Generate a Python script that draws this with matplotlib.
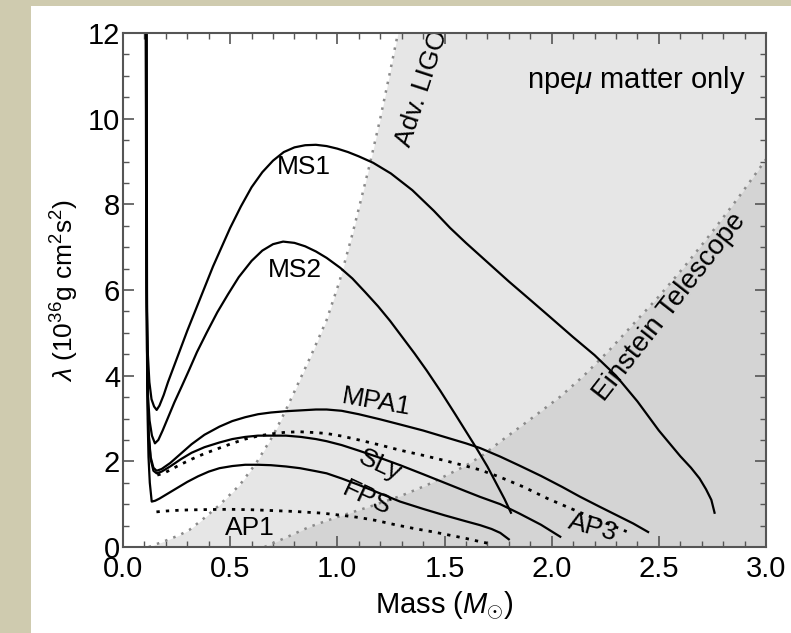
import matplotlib
matplotlib.use("Agg")
import matplotlib.pyplot as plt
from matplotlib.patches import Rectangle
from matplotlib.ticker import MultipleLocator, FormatStrFormatter

plt.rcParams['font.family'] = ['Liberation Sans', 'DejaVu Sans']
plt.rcParams['mathtext.fontset'] = 'custom'
plt.rcParams['mathtext.rm'] = 'Liberation Sans'
plt.rcParams['mathtext.it'] = 'Liberation Sans:italic'

# equations of state: (mass, lambda)
ms1_m = [0.106, 0.108, 0.111, 0.116, 0.123, 0.133, 0.145, 0.157, 0.17, 0.19, 0.21, 0.24, 0.27, 0.30,
         0.34, 0.38, 0.42, 0.46, 0.50, 0.55, 0.60, 0.65, 0.70, 0.75, 0.80, 0.85, 0.90, 0.95, 1.00,
         1.05, 1.10, 1.167, 1.25, 1.35, 1.45, 1.526, 1.6, 1.7, 1.8, 1.9, 1.99, 2.1, 2.2, 2.3, 2.4,
         2.5, 2.6, 2.65, 2.69, 2.72, 2.745, 2.76]
ms1_l = [12.5, 8.0, 5.6, 4.5, 3.85, 3.45, 3.28, 3.2, 3.3, 3.55, 3.85, 4.25, 4.65, 5.05,
         5.55, 6.05, 6.55, 7.0, 7.45, 7.95, 8.4, 8.75, 9.02, 9.22, 9.33, 9.38, 9.39, 9.36, 9.3,
         9.22, 9.12, 8.97, 8.72, 8.33, 7.85, 7.45, 7.1, 6.65, 6.2, 5.77, 5.38, 4.9, 4.48, 4.0, 3.4,
         2.72, 2.12, 1.85, 1.6, 1.35, 1.1, 0.8]

ms2_m = [0.107, 0.109, 0.112, 0.117, 0.124, 0.135, 0.149, 0.165, 0.185, 0.21, 0.24, 0.274, 0.31,
         0.345, 0.39, 0.44, 0.49, 0.54, 0.60, 0.65, 0.70, 0.747, 0.80, 0.85, 0.90, 0.95, 1.013,
         1.07, 1.13, 1.19, 1.246, 1.30, 1.36, 1.417, 1.48, 1.55, 1.60, 1.65, 1.70, 1.74, 1.78, 1.81]
ms2_l = [12.5, 7.0, 4.6, 3.5, 2.95, 2.6, 2.42, 2.5, 2.72, 3.02, 3.38, 3.75, 4.15,
         4.55, 5.0, 5.48, 5.9, 6.3, 6.68, 6.92, 7.07, 7.13, 7.1, 7.02, 6.9, 6.75, 6.52,
         6.27, 5.95, 5.62, 5.28, 4.92, 4.52, 4.12, 3.65, 3.1, 2.7, 2.3, 1.88, 1.5, 1.12, 0.8]

mpa1_m = [0.108, 0.110, 0.113, 0.119, 0.129, 0.142, 0.157, 0.18, 0.22, 0.27, 0.32, 0.38, 0.45, 0.51,
          0.57, 0.63, 0.69, 0.76, 0.83, 0.90, 0.95, 1.02, 1.1, 1.2, 1.293, 1.4, 1.5, 1.6, 1.666,
          1.76, 1.85, 1.95, 2.05, 2.13, 2.22, 2.3, 2.38, 2.45]
mpa1_l = [12.5, 6.0, 3.8, 2.7, 2.1, 1.85, 1.78, 1.82, 1.96, 2.18, 2.4, 2.62, 2.81, 2.94,
          3.03, 3.1, 3.14, 3.17, 3.19, 3.21, 3.21, 3.18, 3.1, 2.98, 2.86, 2.72, 2.57, 2.42, 2.31,
          2.11, 1.9, 1.66, 1.4, 1.18, 0.95, 0.75, 0.55, 0.35]

sly_m = [0.109, 0.111, 0.114, 0.120, 0.129, 0.142, 0.157, 0.18, 0.22, 0.27, 0.32, 0.38, 0.45, 0.51,
         0.57, 0.63, 0.69, 0.76, 0.83, 0.90, 0.95, 1.02, 1.1, 1.2, 1.293, 1.4, 1.5, 1.6, 1.666,
         1.76, 1.85, 1.95, 2.04]
sly_l = [12.5, 6.0, 3.8, 2.6, 2.05, 1.78, 1.72, 1.76, 1.88, 2.05, 2.2, 2.33, 2.44, 2.52,
         2.57, 2.6, 2.6, 2.6, 2.57, 2.52, 2.47, 2.38, 2.25, 2.08, 1.91, 1.7, 1.5, 1.3, 1.17,
         1.0, 0.78, 0.52, 0.24]

ap3_m = [0.16, 0.19, 0.22, 0.27, 0.32, 0.38, 0.45, 0.51, 0.57, 0.63, 0.69, 0.76, 0.826, 0.90, 0.95,
         1.02, 1.1, 1.2, 1.293, 1.4, 1.5, 1.6, 1.666, 1.76, 1.87, 1.977, 2.07, 2.15, 2.25, 2.35]
ap3_l = [1.68, 1.72, 1.8, 1.93, 2.05, 2.18, 2.31, 2.42, 2.52, 2.59, 2.64, 2.68, 2.69, 2.67, 2.65,
         2.59, 2.5, 2.38, 2.26, 2.14, 2.02, 1.89, 1.8, 1.63, 1.4, 1.14, 0.94, 0.77, 0.57, 0.36]

fps_m = [0.110, 0.112, 0.115, 0.119, 0.125, 0.134, 0.15, 0.17, 0.20, 0.25, 0.30, 0.35, 0.40, 0.45,
         0.51, 0.57, 0.63, 0.69, 0.76, 0.826, 0.90, 0.95, 1.02, 1.1, 1.2, 1.293, 1.4, 1.5, 1.6,
         1.666, 1.72, 1.76, 1.8]
fps_l = [12.5, 6.0, 3.0, 2.1, 1.5, 1.06, 1.08, 1.13, 1.22, 1.37, 1.52, 1.65, 1.76, 1.84,
         1.89, 1.92, 1.92, 1.91, 1.88, 1.84, 1.77, 1.72, 1.6, 1.45, 1.25, 1.06, 0.89, 0.74, 0.6,
         0.51, 0.42, 0.33, 0.18]

ap1_m = [0.156, 0.2, 0.25, 0.3, 0.4, 0.5, 0.6, 0.7, 0.8, 0.93, 1.02, 1.1, 1.18, 1.27, 1.36, 1.45,
         1.53, 1.6, 1.67, 1.72]
ap1_l = [0.82, 0.84, 0.855, 0.865, 0.875, 0.88, 0.87, 0.85, 0.83, 0.79, 0.74, 0.69, 0.62, 0.52,
         0.43, 0.35, 0.27, 0.2, 0.12, 0.07]

# detector sensitivity boundaries
ligo_m = [0.12, 0.2, 0.26, 0.31, 0.38, 0.45, 0.545, 0.62, 0.7, 0.76, 0.81, 0.88, 0.95, 1.01, 1.07,
          1.12, 1.153, 1.2, 1.24, 1.283]
ligo_l = [0.0, 0.15, 0.27, 0.4, 0.68, 0.98, 1.45, 1.95, 2.6, 3.2, 3.74, 4.5, 5.3, 6.2, 7.3,
          8.3, 8.97, 10.0, 10.95, 12.0]

et_m = [0.66, 0.76, 0.87, 1.0, 1.15, 1.3, 1.42, 1.52, 1.6, 1.68, 1.76, 1.9, 2.04, 2.15, 2.27, 2.38,
        2.5, 2.62, 2.74, 2.87, 3.0]
et_l = [0.0, 0.22, 0.47, 0.7, 0.94, 1.2, 1.45, 1.7, 1.9, 2.15, 2.46, 2.98, 3.51, 4.0, 4.6, 5.2,
        5.85, 6.55, 7.3, 8.15, 9.05]

fig = plt.figure(figsize=(7.91, 6.33), dpi=100)
fig.patch.set_facecolor('white')
# beige slide border
fig.patches.append(Rectangle((0, 0), 31 / 791, 1, transform=fig.transFigure,
                             facecolor='#cfcbaf', edgecolor='none', zorder=-1))
fig.patches.append(Rectangle((0, 1 - 6 / 633), 1, 6 / 633, transform=fig.transFigure,
                             facecolor='#cfcbaf', edgecolor='none', zorder=-1))

ax = fig.add_axes([123 / 791, 86 / 633, 643 / 791, 514 / 633])

ax.fill_betweenx(ligo_l, ligo_m, 3.0, color='#e6e6e6', lw=0, zorder=1)
ax.fill_betweenx(et_l, et_m, 3.0, color='#d4d4d4', lw=0, zorder=1)
ax.plot(ligo_m, ligo_l, color='#8a8a8a', ls=(0, (1, 2.5)), lw=1.8, zorder=2)
ax.plot(et_m, et_l, color='#8a8a8a', ls=(0, (1, 2.5)), lw=1.8, zorder=2)

for m, l in [(ms1_m, ms1_l), (ms2_m, ms2_l), (mpa1_m, mpa1_l), (sly_m, sly_l), (fps_m, fps_l)]:
    ax.plot(m, l, color='black', lw=1.6, zorder=4, solid_joinstyle='round')
for m, l in [(ap3_m, ap3_l), (ap1_m, ap1_l)]:
    ax.plot(m, l, color='black', ls=(0, (1.2, 2.2)), lw=2.0, zorder=4)

fs = 19
ax.text(0.845, 8.87, 'MS1', fontsize=fs, ha='center', va='center', zorder=5)
ax.text(0.803, 6.47, 'MS2', fontsize=fs, ha='center', va='center', zorder=5)
ax.text(1.184, 3.38, 'MPA1', fontsize=fs, ha='center', va='center', rotation=-10, zorder=5)
ax.text(1.2, 1.9, 'SLy', fontsize=fs, ha='center', va='center', rotation=-25, zorder=5)
ax.text(1.137, 1.14, 'FPS', fontsize=fs, ha='center', va='center', rotation=-25, zorder=5)
ax.text(0.591, 0.44, 'AP1', fontsize=fs, ha='center', va='center', zorder=5)
ax.text(2.193, 0.45, 'AP3', fontsize=fs, ha='center', va='center', rotation=-15, zorder=5)
ax.text(1.395, 10.72, 'Adv. LIGO', fontsize=fs, ha='center', va='center', rotation=72,
        rotation_mode='anchor', zorder=5, clip_on=True)
ax.text(2.553, 5.6, 'Einstein Telescope', fontsize=20, ha='center', va='center', rotation=52,
        rotation_mode='anchor', zorder=5)
ax.text(2.907, 10.9, r'npe$\mu$ matter only', fontsize=21, ha='right', va='center', zorder=5)

ax.set_xlim(0, 3.0)
ax.set_ylim(0, 12)
ax.xaxis.set_major_locator(MultipleLocator(0.5))
ax.xaxis.set_minor_locator(MultipleLocator(0.1))
ax.yaxis.set_major_locator(MultipleLocator(2))
ax.yaxis.set_minor_locator(MultipleLocator(0.5))
ax.xaxis.set_major_formatter(FormatStrFormatter('%.1f'))
ax.tick_params(which='both', direction='in', top=True, right=True, color='#555555')
ax.tick_params(which='major', length=8, width=1.2, labelsize=21)
ax.tick_params(which='minor', length=4, width=1.0)
ax.tick_params(axis='x', pad=6)
ax.tick_params(axis='y', pad=2)
for s in ax.spines.values():
    s.set_color('#555555')
    s.set_linewidth(1.5)
    s.set_zorder(6)

ax.set_xlabel(r'Mass ($M_{\odot}$)', fontsize=21, labelpad=4)
ax.set_ylabel(r'$\lambda$ (10$^{36}$g cm$^2$s$^2$)', fontsize=19, labelpad=5)

fig.savefig('out.png', dpi=100)
